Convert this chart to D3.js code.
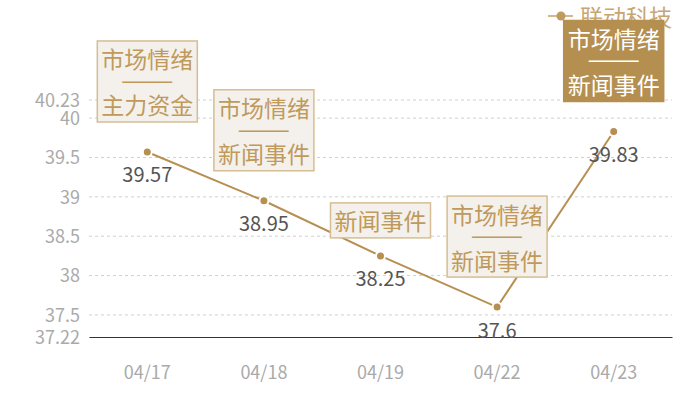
<!DOCTYPE html>
<html lang="zh">
<head>
<meta charset="UTF-8">
<title>联动科技</title>
<script src="https://d3js.org/d3.v7.min.js"></script>
<style>
  body { margin: 0; background: #fff; }
  svg { display: block; font-family: "Noto Sans CJK SC", "Noto Sans", sans-serif; }
</style>
</head>
<body>
<svg width="700" height="400"></svg>
<script>
// données
const dates = ["04/17", "04/18", "04/19", "04/22", "04/23"];
const prices = [39.57, 38.95, 38.25, 37.6, 39.83];
const yTicks = [37.22, 37.5, 38, 38.5, 39, 39.5, 40, 40.23];
const notes = [
    ["市场情绪", "主力资金"],
    ["市场情绪", "新闻事件"],
    ["新闻事件"],
    ["市场情绪", "新闻事件"],
    ["市场情绪", "新闻事件"]
];
const highlighted = 4;
const seriesName = "联动科技";

const gold = "#b78f50";
const margin = { left: 89, right: 28, top: 100, bottom: 63 };
const width = 700, height = 400;

const svg = d3.select("svg");

const x = d3.scaleBand().domain(dates).range([margin.left, width - margin.right]);
const y = d3.scaleLinear().domain([37.22, 40.23]).range([height - margin.bottom, margin.top]);
const cx = d => x(d) + x.bandwidth() / 2;

// grille
svg.append("g")
    .selectAll("line")
    .data(yTicks.filter(t => t !== 37.22))
    .enter().append("line")
    .attr("x1", margin.left)
    .attr("x2", width - margin.right)
    .attr("y1", d => y(d))
    .attr("y2", d => y(d))
    .attr("stroke", "#d0d0d0")
    .attr("stroke-dasharray", "3 3");

// axe Y
const yAxis = svg.append("g")
    .attr("transform", `translate(${margin.left},0)`)
    .call(d3.axisLeft(y).tickValues(yTicks).tickSize(0).tickPadding(9).tickFormat(d => d))
    .attr("font-family", null);
yAxis.select(".domain").remove();
yAxis.selectAll("text").attr("fill", "#aaa").attr("font-size", "18px").attr("dy", "0.35em");

// axe X
const xAxis = svg.append("g")
    .attr("transform", `translate(0,${y(37.22)})`)
    .call(d3.axisBottom(x).tickSize(0).tickPadding(29))
    .attr("font-family", null);
xAxis.select(".domain").attr("stroke", "#333").attr("stroke-width", 1.2);
xAxis.selectAll("text").attr("fill", "#aaa").attr("font-size", "18px");

// ligne
const line = d3.line().x((d, i) => cx(dates[i])).y(d => y(d));
svg.append("path")
    .datum(prices)
    .attr("d", line)
    .attr("fill", "none")
    .attr("stroke", gold)
    .attr("stroke-width", 2);

svg.selectAll(".pt")
    .data(prices)
    .enter().append("circle")
    .attr("class", "pt")
    .attr("cx", (d, i) => cx(dates[i]))
    .attr("cy", d => y(d))
    .attr("r", 4.5)
    .attr("fill", gold)
    .attr("stroke", "#fff")
    .attr("stroke-width", 2);

svg.selectAll(".val")
    .data(prices)
    .enter().append("text")
    .attr("class", "val")
    .attr("x", (d, i) => cx(dates[i]))
    .attr("y", d => y(d) + 22)
    .attr("dominant-baseline", "central")
    .attr("text-anchor", "middle")
    .attr("font-size", "20px")
    .attr("fill", "#555")
    .text(d => d);

// légende
const lg = svg.append("g").attr("transform", "translate(561,16)");
lg.append("line").attr("x1", -13).attr("x2", 12).attr("stroke", "#d2b98f").attr("stroke-width", 2);
lg.append("circle").attr("r", 4.5).attr("fill", "#c09a5e");
lg.append("text")
    .attr("x", 19)
    .attr("dominant-baseline", "central")
    .attr("font-size", "23px")
    .attr("fill", "#c8a672")
    .text(seriesName);

// encadrés
const boxW = 100, lineH = 23, pad = 6;
notes.forEach((lines, i) => {
    const rows = lines.length > 1 ? [lines[0], "——", lines[1]] : lines;
    const h = rows.length * lineH + pad * 2;
    const gap = rows.length > 1 ? 30 : 18;
    const px = cx(dates[i]);
    const top = y(prices[i]) - gap - h;
    const hl = i === highlighted;
    const col = hl ? "#fff" : "#c09a5b";
    const g = svg.append("g");
    g.append("rect")
        .attr("x", px - boxW / 2)
        .attr("y", top)
        .attr("width", boxW)
        .attr("height", h)
        .attr("fill", hl ? "#b58f50" : "#f4f1ec")
        .attr("stroke", hl ? "#b58f50" : "#d6bd93")
        .attr("stroke-width", 1.5);
    rows.forEach((r, j) => {
        const t = g.append("text")
            .attr("x", px)
            .attr("y", top + pad + lineH * j + lineH / 2)
            .attr("dominant-baseline", "central")
            .attr("text-anchor", "middle")
            .attr("font-size", "23px")
            .attr("fill", col)
            .text(r);
        if (r === "——") {
            // séparateur : petit corps, étiré et épaissi
            t.attr("font-size", "9px")
                .attr("textLength", 50)
                .attr("lengthAdjust", "spacingAndGlyphs")
                .attr("stroke", col)
                .attr("stroke-width", 0.8);
        }
    });
});
</script>
</body>
</html>
